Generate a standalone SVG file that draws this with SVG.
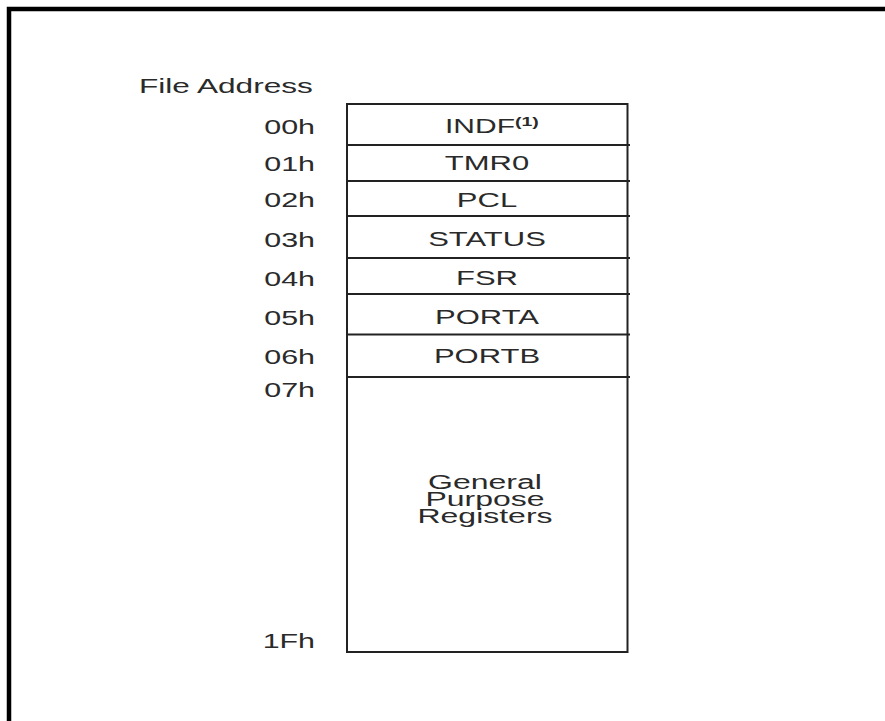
<svg xmlns="http://www.w3.org/2000/svg" width="885" height="721" viewBox="0 0 885 721">
<style>
.t{font-family:"Liberation Sans",Arial,sans-serif;font-size:20px;fill:#2a2a2a}
.m{text-anchor:middle}
.e{text-anchor:end}
.cell{fill:#fff;stroke:#222;stroke-width:2}
.sep{stroke:#222;stroke-width:2}
</style>
<rect width="885" height="721" fill="#fff"/>
<path d="M9,721 V9 H885" fill="none" stroke="#000" stroke-width="4.5"/>
<g id="title"><text class="t" transform="translate(139,92.5) scale(1.58,1)">File Address</text></g>
<g id="addresses">
<text class="t e" transform="translate(315,134) scale(1.52,1)">00h</text>
<text class="t e" transform="translate(315,171) scale(1.52,1)">01h</text>
<text class="t e" transform="translate(315,207) scale(1.52,1)">02h</text>
<text class="t e" transform="translate(315,247) scale(1.52,1)">03h</text>
<text class="t e" transform="translate(315,286) scale(1.52,1)">04h</text>
<text class="t e" transform="translate(315,325) scale(1.52,1)">05h</text>
<text class="t e" transform="translate(315,364) scale(1.52,1)">06h</text>
<text class="t e" transform="translate(315,397) scale(1.52,1)">07h</text>
<text class="t e" transform="translate(315,648) scale(1.52,1)">1Fh</text>
</g>
<g id="memory">
<rect class="cell" x="347" y="104" width="280.5" height="548"/>
<g id="sfr-separators">
<line class="sep" x1="347" y1="145" x2="630" y2="145"/>
<line class="sep" x1="347" y1="181" x2="630" y2="181"/>
<line class="sep" x1="347" y1="216" x2="630" y2="216"/>
<line class="sep" x1="347" y1="258" x2="630" y2="258"/>
<line class="sep" x1="347" y1="294" x2="630" y2="294"/>
<line class="sep" x1="347" y1="334.5" x2="630" y2="334.5"/>
<line class="sep" x1="347" y1="377" x2="630" y2="377"/>
</g>
</g>
<g id="INDF"><text class="t" transform="translate(445,133) scale(1.5,1)">INDF<tspan font-size="13" font-weight="bold" dy="-7">(1)</tspan></text></g>
<g id="TMR0"><text class="t m" transform="translate(487,170) scale(1.55,1)">TMR0</text></g>
<g id="PCL"><text class="t m" transform="translate(487,207) scale(1.55,1)">PCL</text></g>
<g id="STATUS"><text class="t m" transform="translate(487,246) scale(1.55,1)">STATUS</text></g>
<g id="FSR"><text class="t m" transform="translate(487,285) scale(1.55,1)">FSR</text></g>
<g id="PORTA"><text class="t m" transform="translate(487,324) scale(1.55,1)">PORTA</text></g>
<g id="PORTB"><text class="t m" transform="translate(487,363) scale(1.55,1)">PORTB</text></g>
<g id="GPR">
<text class="t m" transform="translate(485,489) scale(1.6,1)"><tspan x="0" y="0">General</tspan><tspan x="0" y="17">Purpose</tspan><tspan x="0" y="34">Registers</tspan></text>
</g>
</svg>
